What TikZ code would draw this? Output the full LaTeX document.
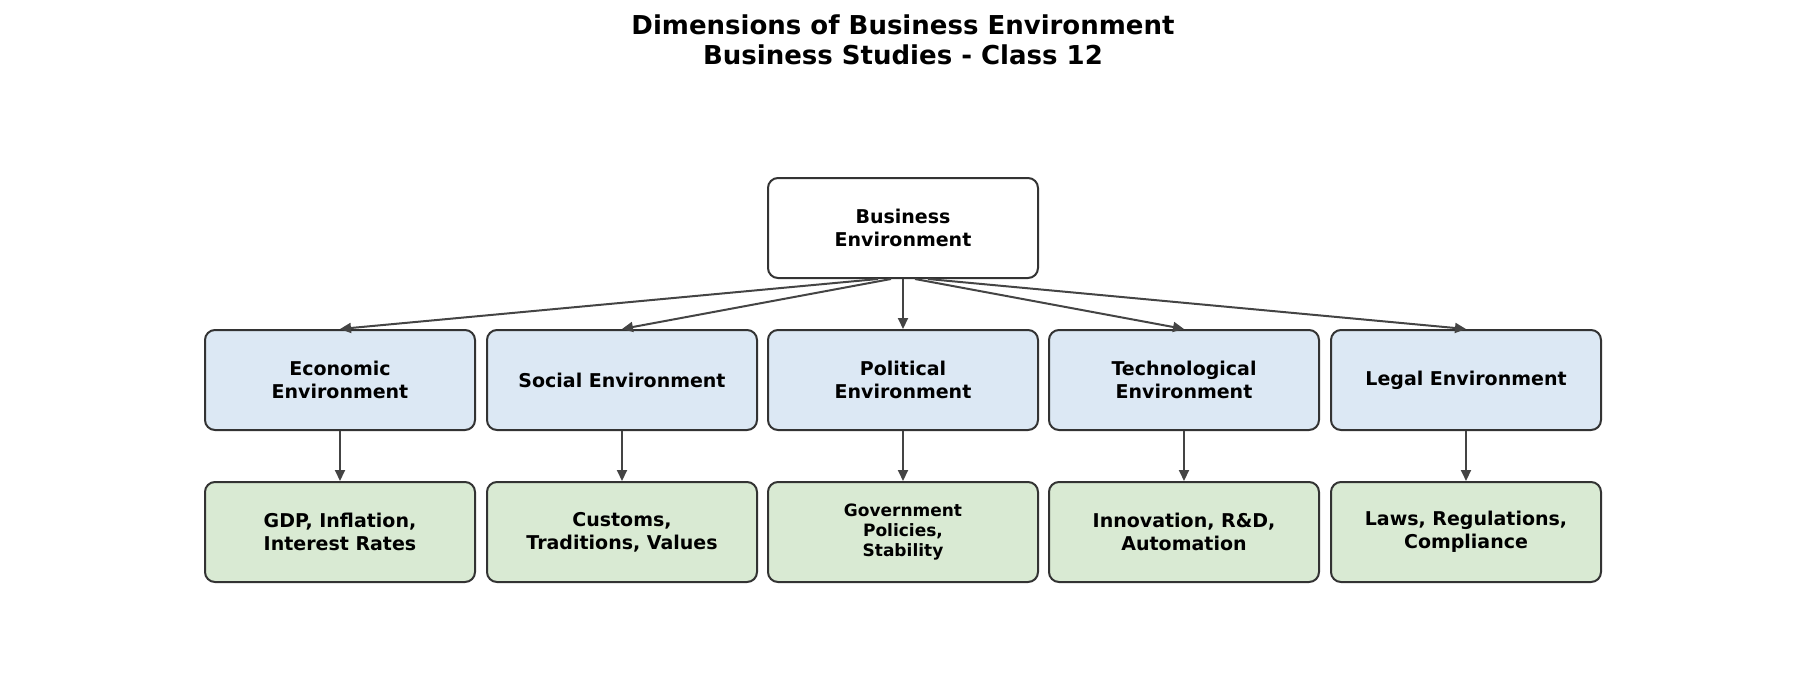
\documentclass[tikz,border=0pt]{standalone}
\usepackage{fontspec}
\setmainfont{DejaVu Sans}
\usetikzlibrary{arrows.meta}
\definecolor{bluef}{HTML}{DCE8F4}
\definecolor{greenf}{HTML}{D9EAD3}
\definecolor{edge}{HTML}{333333}
\definecolor{arr}{HTML}{444444}
\begin{document}
\begin{tikzpicture}[x=1pt,y=-1pt,
  box/.style={draw=edge,line width=2pt,rounded corners=10pt,minimum width=270pt,minimum height=100pt,align=center,font=\fontsize{19}{23}\selectfont\bfseries},
  conn/.style={draw=arr,line width=2pt,-{Triangle[length=11pt,width=10pt]}}]
\useasboundingbox (0,0) rectangle (1805,699);
\node[align=center,font=\fontsize{26}{30}\selectfont\bfseries] (title) at (903,40) {Dimensions of Business Environment\\Business Studies - Class 12};
\node[box,fill=white] (top) at (903,228) {Business\\Environment};
\node[box,fill=bluef] (a) at (340,380) {Economic\\Environment};
\node[box,fill=bluef] (b) at (622,380) {Social Environment};
\node[box,fill=bluef] (c) at (903,380) {Political\\Environment};
\node[box,fill=bluef] (d) at (1184,380) {Technological\\Environment};
\node[box,fill=bluef] (e) at (1466,380) {Legal Environment};
\node[box,fill=greenf] (a2) at (340,532) {GDP, Inflation,\\Interest Rates};
\node[box,fill=greenf] (b2) at (622,532) {Customs,\\Traditions, Values};
\node[box,fill=greenf,font=\fontsize{17}{20}\selectfont\bfseries] (c2) at (903,532) {Government\\Policies,\\Stability};
\node[box,fill=greenf] (d2) at (1184,532) {Innovation, R\&D,\\Automation};
\node[box,fill=greenf] (e2) at (1466,532) {Laws, Regulations,\\Compliance};
\draw[conn] ([xshift=-25pt]top.south) -- (a.north);
\draw[conn] ([xshift=-12pt]top.south) -- (b.north);
\draw[conn] (top.south) -- (c.north);
\draw[conn] ([xshift=12pt]top.south) -- (d.north);
\draw[conn] ([xshift=25pt]top.south) -- (e.north);
\foreach \p/\q in {a/a2,b/b2,c/c2,d/d2,e/e2} \draw[conn] (\p.south) -- (\q.north);
\end{tikzpicture}
\end{document}
